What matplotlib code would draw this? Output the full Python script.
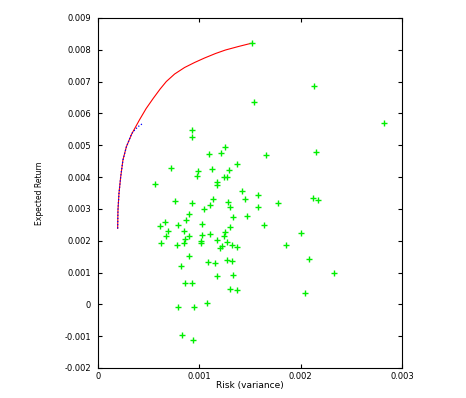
import numpy as np
import matplotlib
matplotlib.use('Agg')
import matplotlib.pyplot as plt

# activos individuales (riesgo = varianza, retorno esperado)
riesgo = [0.00152, 0.00213, 0.00154, 0.00282, 0.00093, 0.00093, 0.00125, 0.00110,
          0.00121, 0.00166, 0.00215, 0.00137, 0.00072, 0.00099, 0.00112, 0.00129,
          0.00098, 0.00124, 0.00127, 0.00117, 0.00117, 0.00056, 0.00142, 0.00158,
          0.00113, 0.00145, 0.00076, 0.00093, 0.00128, 0.00178, 0.00212, 0.00217,
          0.00111, 0.00105, 0.00130, 0.00158, 0.00090, 0.00133, 0.00147, 0.00087,
          0.00066, 0.00061, 0.00079, 0.00103, 0.00130, 0.00164, 0.00069, 0.00085,
          0.00067, 0.00090, 0.00103, 0.00111, 0.00125, 0.00124, 0.00200, 0.00086,
          0.00102, 0.00117, 0.00062, 0.00078, 0.00085, 0.00102, 0.00127, 0.00122,
          0.00120, 0.00132, 0.00137, 0.00186, 0.00090, 0.00208, 0.00082, 0.00109,
          0.00115, 0.00127, 0.00132, 0.00233, 0.00117, 0.00133, 0.00086, 0.00093,
          0.00130, 0.00137, 0.00204, 0.00108, 0.00079, 0.00095, 0.00083, 0.00094]
retorno = [0.00821, 0.00687, 0.00635, 0.00569, 0.00547, 0.00526, 0.00494, 0.00471,
           0.00475, 0.00469, 0.00480, 0.00442, 0.00429, 0.00420, 0.00424, 0.00421,
           0.00404, 0.00400, 0.00401, 0.00386, 0.00374, 0.00378, 0.00356, 0.00344,
           0.00332, 0.00331, 0.00326, 0.00317, 0.00322, 0.00317, 0.00334, 0.00327,
           0.00312, 0.00300, 0.00305, 0.00305, 0.00283, 0.00275, 0.00277, 0.00265,
           0.00259, 0.00245, 0.00248, 0.00253, 0.00242, 0.00248, 0.00230, 0.00230,
           0.00215, 0.00215, 0.00219, 0.00220, 0.00226, 0.00214, 0.00223, 0.00204,
           0.00200, 0.00202, 0.00192, 0.00185, 0.00192, 0.00192, 0.00196, 0.00183,
           0.00177, 0.00185, 0.00179, 0.00185, 0.00153, 0.00144, 0.00120, 0.00133,
           0.00130, 0.00138, 0.00137, 0.00100, 0.00088, 0.00092, 0.00066, 0.00066,
           0.00047, 0.00045, 0.00037, 0.00004, -0.00007, -0.00009, -0.00097, -0.00113]

# frontera eficiente (roja)
fronteraRiesgo = [0.000194, 0.000197, 0.000207, 0.000224, 0.000246, 0.000280, 0.000332,
                  0.000411, 0.000475, 0.000544, 0.000613, 0.000674, 0.000756, 0.000854,
                  0.000953, 0.001051, 0.001160, 0.001258, 0.001386, 0.001511]
fronteraRetorno = [0.002387, 0.002962, 0.003487, 0.004009, 0.004535, 0.004953, 0.005352,
                   0.005808, 0.006154, 0.006469, 0.006767, 0.007003, 0.007239, 0.007443,
                   0.007601, 0.007742, 0.007884, 0.007994, 0.008104, 0.008204]

# segunda frontera (azul, punteada)
azulRiesgo = [0.000194, 0.000197, 0.000207, 0.000224, 0.000246, 0.000280, 0.000317,
              0.000335, 0.000362, 0.000394, 0.000443]
azulRetorno = [0.002387, 0.002962, 0.003487, 0.004009, 0.004535, 0.004953, 0.005242,
               0.005374, 0.005478, 0.005582, 0.005689]

xTicks = [0, 0.001, 0.002, 0.003]
xTickLabels = ['0', '0.001', '0.002', '0.003']
yTicks = [-0.002, -0.001, 0, 0.001, 0.002, 0.003, 0.004, 0.005, 0.006, 0.007, 0.008, 0.009]
yTickLabels = ['-0.002', '-0.001', '0', '0.001', '0.002', '0.003', '0.004', '0.005',
               '0.006', '0.007', '0.008', '0.009']

plt.rcParams['font.family'] = ['DejaVu Sans']

fig = plt.figure(figsize=(4.66, 3.98), dpi=100)
ax = fig.add_axes([0.2103, 0.0754, 0.6524, 0.8794])

ax.plot(fronteraRiesgo, fronteraRetorno, color='#ff0000', linewidth=0.8, zorder=2)
ax.plot(azulRiesgo, azulRetorno, color='#0000ff', linestyle=(0, (1, 1.5)), linewidth=0.9, zorder=3)
ax.plot(riesgo, retorno, linestyle='none', marker='+', color='#00ee00',
        markersize=5, markeredgewidth=1.0, zorder=4)

ax.set_xlim(0, 0.003)
ax.set_ylim(-0.002, 0.009)
ax.set_xticks(xTicks)
ax.set_xticklabels(xTickLabels)
ax.set_yticks(yTicks)
ax.set_yticklabels(yTickLabels)
ax.tick_params(direction='in', length=3, width=0.8, top=True, right=True,
               labelsize=6, colors='black')
ax.tick_params(axis='y', pad=5)
ax.tick_params(axis='x', pad=3)
for s in ax.spines.values():
    s.set_linewidth(0.8)

ax.set_xlabel('Risk (variance)', fontsize=6.5, labelpad=0)
ax.set_ylabel('Expected Return', fontsize=5.5, labelpad=15,
              family=['Liberation Sans Narrow', 'DejaVu Sans'])

fig.savefig('out.png', dpi=100)
